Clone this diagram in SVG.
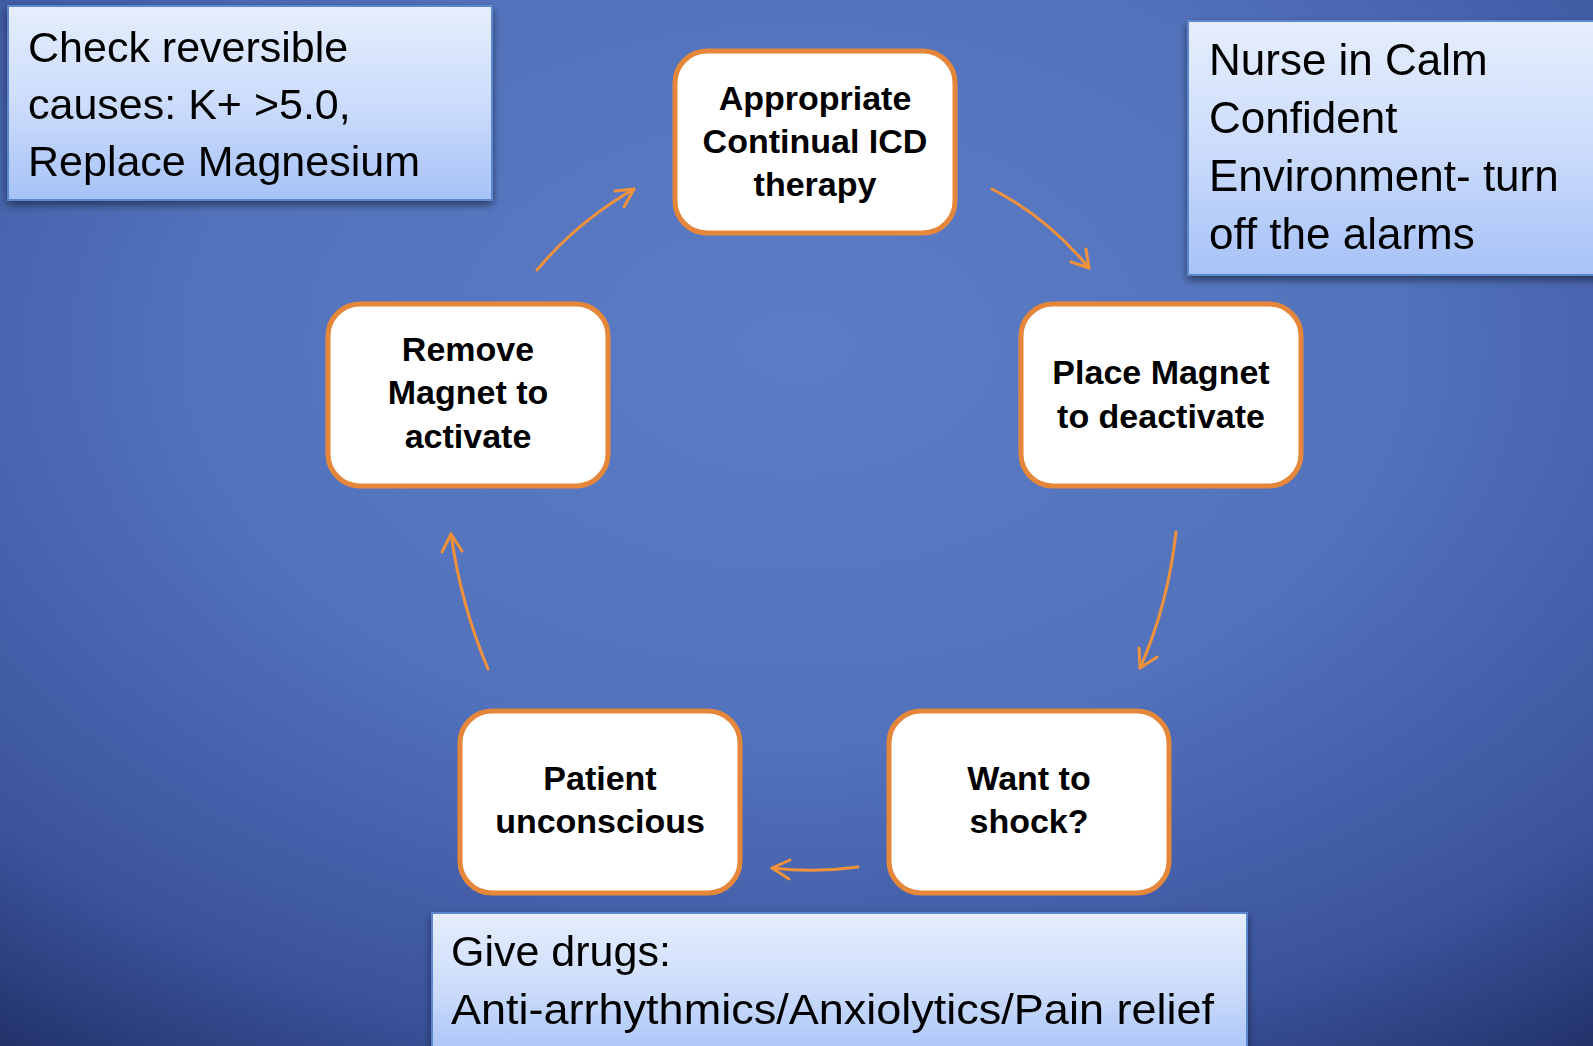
<svg xmlns="http://www.w3.org/2000/svg" width="1593" height="1046" viewBox="0 0 1593 1046">
<style>
.node rect{fill:#ffffff;stroke:#e5873b;stroke-width:5}
.nt{font-family:"Liberation Sans",Arial,sans-serif;font-weight:bold;font-size:34px;fill:#000;text-anchor:middle}
.callout rect{fill:url(#cg);stroke:#5c88cf;stroke-width:2}
.ct{font-family:"Liberation Sans",Arial,sans-serif;font-size:43px;fill:#000}
.conn path{fill:none;stroke:#f0913c;stroke-width:3;stroke-linecap:round;stroke-linejoin:round}
</style>
<defs>
<radialGradient id="bg" cx="0.5" cy="0.33" r="0.85" gradientUnits="objectBoundingBox">
<stop offset="0" stop-color="#5c7cc6"/>
<stop offset="0.45" stop-color="#5272bc"/>
<stop offset="0.8" stop-color="#3b539c"/>
<stop offset="1" stop-color="#203066"/>
</radialGradient>
<linearGradient id="cg" x1="0" y1="0" x2="0" y2="1">
<stop offset="0" stop-color="#e6eefd"/>
<stop offset="0.5" stop-color="#ccdcfb"/>
<stop offset="1" stop-color="#a6c2f7"/>
</linearGradient>
<filter id="sh" x="-10%" y="-10%" width="120%" height="130%">
<feGaussianBlur in="SourceAlpha" stdDeviation="4"/>
<feOffset dx="0" dy="4"/>
<feComponentTransfer><feFuncA type="linear" slope="0.5"/></feComponentTransfer>
<feMerge><feMergeNode/><feMergeNode in="SourceGraphic"/></feMerge>
</filter>
</defs>
<rect x="0" y="0" width="1593" height="1046" fill="url(#bg)"/>

<g id="callout-reversible" class="callout" filter="url(#sh)">
<rect x="8" y="6" width="484" height="194"/>
<text class="ct" x="28" y="62">Check reversible</text>
<text class="ct" x="28" y="119">causes: K+ &gt;5.0,</text>
<text class="ct" x="28" y="176">Replace Magnesium</text>
</g>
<g id="callout-nurse" class="callout" filter="url(#sh)">
<rect x="1188" y="21" width="420" height="254"/>
<text class="ct" x="1209" y="75" style="font-size:44px">Nurse in Calm</text>
<text class="ct" x="1209" y="133" style="font-size:44px">Confident</text>
<text class="ct" x="1209" y="191" style="font-size:44px">Environment- turn</text>
<text class="ct" x="1209" y="249" style="font-size:44px">off the alarms</text>
</g>
<g id="callout-drugs" class="callout" filter="url(#sh)">
<rect x="432" y="913" width="815" height="150"/>
<text class="ct" x="451" y="966">Give drugs:</text>
<text class="ct" x="451" y="1024" textLength="763" lengthAdjust="spacingAndGlyphs">Anti-arrhythmics/Anxiolytics/Pain relief</text>
</g>

<g id="connectors" class="conn">
<path d="M992,189 Q1048,218 1089,268"/>
<path d="M1071,262 L1089,268 L1086,249"/>
<path d="M1176,532 Q1168,605 1140,668"/>
<path d="M1139,648 L1140,668 L1157,657"/>
<path d="M858,867 Q815,873 772,868"/>
<path d="M790,860 L772,868 L789,879"/>
<path d="M488,669 Q461,605 451,534"/>
<path d="M442,552 L451,534 L462,551"/>
<path d="M537,270 Q577,222 634,189"/>
<path d="M615,191 L634,189 L624,207"/>
</g>

<g id="node-icd" class="node">
<rect x="675" y="51" width="280" height="182" rx="32"/>
<text class="nt" x="815" y="110">Appropriate</text>
<text class="nt" x="815" y="153">Continual ICD</text>
<text class="nt" x="815" y="196">therapy</text>
</g>
<g id="node-place" class="node">
<rect x="1021" y="304" width="280" height="182" rx="32"/>
<text class="nt" x="1161" y="384">Place Magnet</text>
<text class="nt" x="1161" y="428">to deactivate</text>
</g>
<g id="node-shock" class="node">
<rect x="889" y="711" width="280" height="182" rx="32"/>
<text class="nt" x="1029" y="790">Want to</text>
<text class="nt" x="1029" y="833">shock?</text>
</g>
<g id="node-patient" class="node">
<rect x="460" y="711" width="280" height="182" rx="32"/>
<text class="nt" x="600" y="790">Patient</text>
<text class="nt" x="600" y="833">unconscious</text>
</g>
<g id="node-remove" class="node">
<rect x="328" y="304" width="280" height="182" rx="32"/>
<text class="nt" x="468" y="361">Remove</text>
<text class="nt" x="468" y="404">Magnet to</text>
<text class="nt" x="468" y="448">activate</text>
</g>
</svg>
